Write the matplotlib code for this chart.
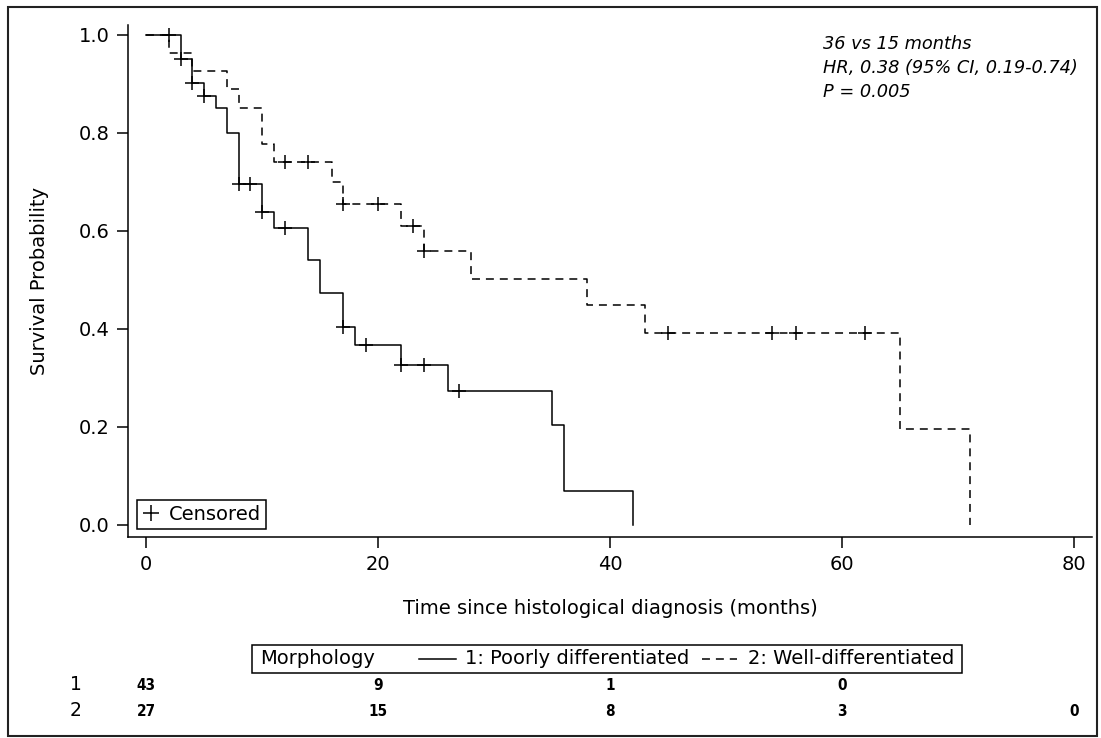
import numpy as np
import matplotlib
matplotlib.use('Agg')
import matplotlib.pyplot as plt
from matplotlib.lines import Line2D
from matplotlib.patches import Rectangle
import matplotlib.transforms as mtrans
from matplotlib import font_manager

plt.rcParams['font.family'] = ['DejaVu Sans']

# ---- data ----
g1_times = [0, 3, 4, 5, 6, 7, 8, 10, 11, 14, 15, 17, 18, 22, 26, 35, 36, 42]
g1_surv = [1.0, 0.952, 0.903, 0.876, 0.850, 0.799, 0.696, 0.638, 0.607,
           0.541, 0.473, 0.405, 0.367, 0.327, 0.273, 0.204, 0.069, 0.0]
g1_censor = [2, 3, 4, 5, 8, 9, 10, 12, 17, 19, 22, 24, 27]

g2_times = [0, 2, 4, 7, 8, 10, 11, 16, 17, 22, 24, 28, 38, 43, 65, 71]
g2_surv = [1.0, 0.963, 0.926, 0.889, 0.852, 0.778, 0.741, 0.699, 0.656,
           0.610, 0.559, 0.503, 0.448, 0.391, 0.196, 0.0]
g2_censor = [12, 14, 17, 20, 23, 24, 45, 54, 56, 62]

risk_times = [0, 20, 40, 60, 80]
risk_g1 = ['43', '9', '1', '0', '']
risk_g2 = ['27', '15', '8', '3', '0']
y_ticks = [0.0, 0.2, 0.4, 0.6, 0.8, 1.0]

group_labels = ['1: Poorly differentiated', '2: Well-differentiated']
annot_lines = ['36 vs 15 months', 'HR, 0.38 (95% CI, 0.19-0.74)', 'P = 0.005']

# narrow font for the risk table, if available
names = {f.name for f in font_manager.fontManager.ttflist}
narrow = 'Liberation Sans Narrow' if 'Liberation Sans Narrow' in names else None

# ---- figure ----
W, H = 1101, 738
fig = plt.figure(figsize=(W / 100, H / 100), dpi=100)


def fx(x):
    return x / W


def fy(y):
    return 1 - y / H


ax = fig.add_axes([fx(128), fy(537), fx(1092) - fx(128), fy(25) - fy(537)])
LW = 1.1
DASH = (0, (5.2, 3.9))

ax.step(g1_times, g1_surv, where='post', color='k', lw=LW)
ax.step(g2_times, g2_surv, where='post', color='k', lw=LW, linestyle=DASH)


def surv_at(times, surv, t):
    idx = np.searchsorted(times, t, side='right') - 1
    return np.asarray(surv)[idx]


ax.plot(g1_censor, surv_at(g1_times, g1_surv, g1_censor), ls='none',
        marker='+', ms=10, mew=1.1, color='k')
ax.plot(g2_censor, surv_at(g2_times, g2_surv, g2_censor), ls='none',
        marker='+', ms=10, mew=1.1, color='k')

ax.set_xlim(-1.55, 81.55)
ax.set_ylim(-0.0245, 1.0204)
ax.spines[['top', 'right']].set_visible(False)
for s in ['left', 'bottom']:
    ax.spines[s].set_linewidth(LW)
ax.set_xticks(risk_times)
ax.set_yticks(y_ticks)
ax.yaxis.set_major_formatter('{x:.1f}')
ax.tick_params(direction='out', length=8, width=LW, labelsize=14, pad=5)

ax.set_xlabel('Time since histological diagnosis (months)', fontsize=14)
ax.xaxis.set_label_coords(0.5, fy(599),
                          transform=mtrans.blended_transform_factory(ax.transAxes, fig.transFigure))
ax.set_ylabel('Survival Probability', fontsize=14, va='center')
ax.yaxis.set_label_coords(fx(40), 0.5,
                          transform=mtrans.blended_transform_factory(fig.transFigure, ax.transAxes))

# annotation
for i, line in enumerate(annot_lines):
    fig.text(fx(823), fy(44 + 24 * i), line, fontsize=12.8, style='italic',
             ha='left', va='center')

# censored legend
leg = ax.legend(handles=[Line2D([], [], ls='none', marker='+', color='k', ms=12, mew=1.1)],
                labels=['Censored'], loc='lower left',
                bbox_to_anchor=(fx(137), fy(529)), bbox_transform=fig.transFigure,
                borderaxespad=0, frameon=True, fancybox=False, framealpha=1,
                edgecolor='k', fontsize=14, handlelength=0.95, handletextpad=0.45,
                borderpad=0.25)
leg.get_frame().set_linewidth(LW)

# group legend (bottom)
fig.add_artist(Rectangle((fx(252), fy(673)), fx(962) - fx(252), fy(645) - fy(673),
                         transform=fig.transFigure, fill=False, ec='k', lw=LW))
ly = fy(659)
fig.text(fx(260), ly, 'Morphology', fontsize=14, ha='left', va='center')
fig.add_artist(Line2D([fx(419), fx(456)], [ly, ly], color='k', lw=LW,
                      transform=fig.transFigure))
fig.text(fx(465), ly, group_labels[0], fontsize=14, ha='left', va='center')
fig.add_artist(Line2D([fx(702), fx(737)], [ly, ly], color='k', lw=LW, linestyle=DASH,
                      transform=fig.transFigure))
fig.text(fx(748), ly, group_labels[1], fontsize=14, ha='left', va='center')

# risk table
rt = mtrans.blended_transform_factory(ax.transData, fig.transFigure)
fig.text(fx(76), fy(685), '1', fontsize=13.5, ha='center', va='center')
fig.text(fx(76), fy(711), '2', fontsize=13.5, ha='center', va='center')
if narrow:
    rkw = dict(family=narrow, fontsize=11.5, fontweight='bold')
else:
    rkw = dict(family='DejaVu Sans', fontstretch='condensed', fontsize=11, fontweight='bold')
for t, a, b in zip(risk_times, risk_g1, risk_g2):
    ax.text(t, fy(685), a, transform=rt, ha='center', va='center', **rkw)
    ax.text(t, fy(711), b, transform=rt, ha='center', va='center', **rkw)

# outer border
fig.add_artist(Rectangle((fx(8), fy(736)), fx(1097) - fx(8), fy(7) - fy(736),
                         transform=fig.transFigure, fill=False, ec='#222222', lw=1.5))

fig.savefig('out.png', dpi=100)
